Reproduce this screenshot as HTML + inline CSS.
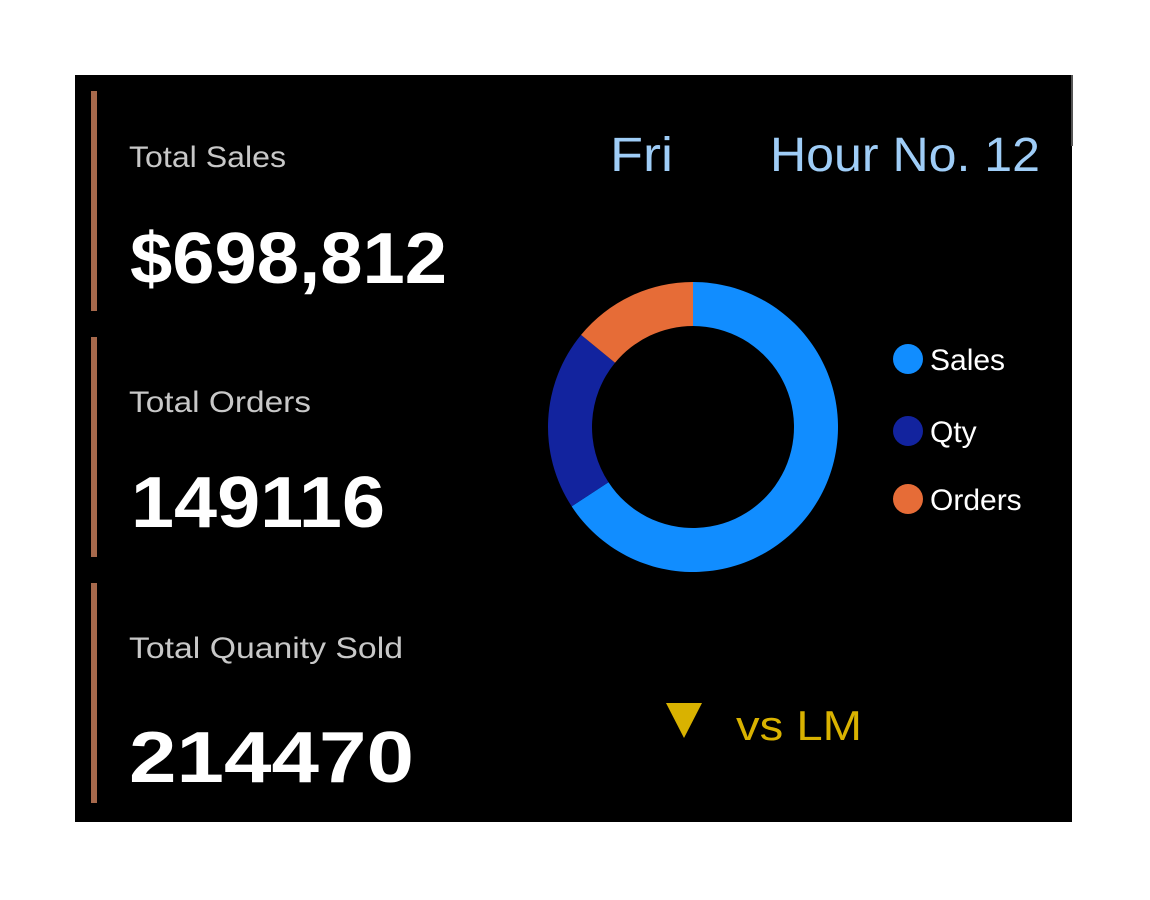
<!DOCTYPE html>
<html><head><meta charset="utf-8"><style>
html,body{margin:0;padding:0;background:#fff;width:1150px;height:900px;overflow:hidden}
svg{display:block}
</style></head><body>
<svg width="1150" height="900" font-family="'Liberation Sans', sans-serif">
<rect x="75" y="75" width="997" height="747" fill="#000"/>
<rect x="1071" y="75" width="2" height="71" fill="#555"/>
<g>
<rect x="91" y="91" width="6" height="220" fill="#a7694c"/>
<text x="129" y="167" font-size="30" fill="#c8c8c8" textLength="157" lengthAdjust="spacingAndGlyphs">Total Sales</text>
<text x="130" y="283" font-size="72" font-weight="bold" fill="#fff" textLength="317" lengthAdjust="spacingAndGlyphs">$698,812</text>
</g>
<g>
<rect x="91" y="337" width="6" height="220" fill="#a7694c"/>
<text x="129" y="412" font-size="30" fill="#c8c8c8" textLength="182" lengthAdjust="spacingAndGlyphs">Total Orders</text>
<text x="131" y="527" font-size="72" font-weight="bold" fill="#fff" textLength="254" lengthAdjust="spacingAndGlyphs">149116</text>
</g>
<g>
<rect x="91" y="583" width="6" height="220" fill="#a7694c"/>
<text x="129" y="658" font-size="30" fill="#c8c8c8" textLength="274" lengthAdjust="spacingAndGlyphs">Total Quanity Sold</text>
<text x="129" y="782" font-size="72" font-weight="bold" fill="#fff" textLength="285" lengthAdjust="spacingAndGlyphs">214470</text>
</g>
<text x="610" y="171" font-size="48" fill="#9fcdf7" textLength="63" lengthAdjust="spacingAndGlyphs">Fri</text>
<text x="770" y="171" font-size="48" fill="#9fcdf7" textLength="270" lengthAdjust="spacingAndGlyphs">Hour No. 12</text>
<g id="donut"></g>
<g id="legend"></g>
<polygon points="666,703 702,703 684,738" fill="#d9b200"/>
<text x="736" y="740" font-size="42" fill="#d9b200" textLength="126" lengthAdjust="spacingAndGlyphs">vs LM</text>
</svg>
<script>
const categories = ["Sales", "Qty", "Orders"];
const values = [698812, 214470, 149116];
const colors = ["#118dff", "#12239e", "#e66c37"];
const NS = "http://www.w3.org/2000/svg";
const cx = 693, cy = 427, R = 145, r = 101;
const total = values.reduce((a, b) => a + b, 0);
function pt(a, rad) { return [cx + rad * Math.sin(a), cy - rad * Math.cos(a)]; }
const donut = document.getElementById("donut");
let start = 0;
values.forEach((v, i) => {
  const end = start + v / total * 2 * Math.PI;
  const large = end - start > Math.PI ? 1 : 0;
  const [x1, y1] = pt(start, R), [x2, y2] = pt(end, R), [x3, y3] = pt(end, r), [x4, y4] = pt(start, r);
  const p = document.createElementNS(NS, "path");
  p.setAttribute("d", `M${x1},${y1} A${R},${R} 0 ${large} 1 ${x2},${y2} L${x3},${y3} A${r},${r} 0 ${large} 0 ${x4},${y4} Z`);
  p.setAttribute("fill", colors[i]);
  
  
  donut.appendChild(p);
  start = end;
});
const legend = document.getElementById("legend");
const legendY = [359, 431, 499];
categories.forEach((c, i) => {
  const dot = document.createElementNS(NS, "circle");
  dot.setAttribute("cx", 908); dot.setAttribute("cy", legendY[i]); dot.setAttribute("r", 15);
  dot.setAttribute("fill", colors[i]);
  
  
  legend.appendChild(dot);
  const t = document.createElementNS(NS, "text");
  t.setAttribute("x", 930); t.setAttribute("y", legendY[i] + 11);
  t.setAttribute("font-size", 30); t.setAttribute("fill", "#fff");
  t.textContent = c;
  
  
  legend.appendChild(t);
});
</script>
</body></html>
